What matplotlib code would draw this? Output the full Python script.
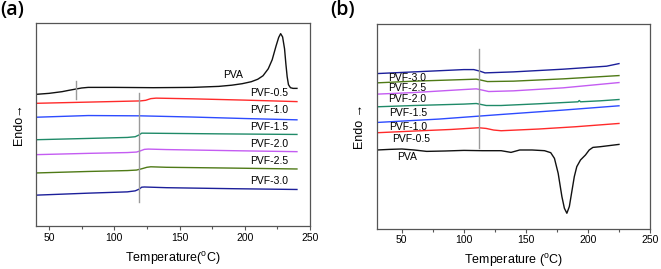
import matplotlib
matplotlib.use("Agg")
import matplotlib.pyplot as plt
from matplotlib.ticker import MultipleLocator

plt.rcParams['font.family'] = ['Liberation Sans', 'DejaVu Sans']

# ---- panel (a): heating curves, arbitrary offset heights ----
a_pva_T = [40, 50, 60, 65, 70, 75, 80, 100, 130, 160, 180, 190, 198, 205, 210, 214,
           218, 221, 224, 226, 227.5, 229, 230.5, 231.5, 232.5, 233.5, 235, 237, 240]
a_pva_h = [132.3, 133.3, 135, 136.3, 137.5, 138.7, 139.3, 139.3, 139, 139.3, 140.3, 141.5,
           143, 145, 147.5, 151, 158, 167, 181, 189.5, 193.3, 190, 178, 163, 150, 142,
           139, 138.3, 138.3]
a_05_T = [40, 80, 120, 124, 128, 132, 160, 200, 240]
a_05_h = [123.3, 124.5, 125.7, 126.3, 128, 128.5, 127.8, 126.5, 125]
a_10_T = [40, 80, 120, 160, 200, 240]
a_10_h = [109.3, 111, 110.7, 109.5, 108, 106.7]
a_15_T = [40, 80, 110, 116, 119, 121, 130, 180, 240]
a_15_h = [86.7, 88, 89, 89.7, 91.5, 93.3, 93.2, 92.6, 92]
a_20_T = [40, 80, 110, 117, 120, 123, 126, 140, 190, 240]
a_20_h = [71.7, 73, 73.8, 74.3, 75.5, 77, 77.3, 76.8, 75.7, 74.7]
a_25_T = [40, 80, 110, 117, 121, 125, 128, 140, 190, 240]
a_25_h = [53.3, 54.8, 55.7, 56.2, 57.5, 59, 59.5, 59, 58.2, 57.3]
a_30_T = [40, 80, 110, 116, 119, 121, 123, 140, 190, 240]
a_30_h = [31, 33, 34.3, 35.3, 37, 39, 39.2, 38.5, 37.5, 36.7]

# ---- panel (b): cooling curves ----
b_pva_T = [30, 40, 50, 60, 70, 85, 100, 115, 130, 138, 145, 155, 165, 170, 173, 176, 179,
           181, 183, 185, 187, 189, 191, 194, 198, 201, 204, 210, 225]
b_pva_h = [78.7, 79.3, 79.7, 78.7, 77.3, 77.7, 78.3, 78, 78, 76.3, 78.7, 78.7, 78, 76, 70.3,
           55.3, 32, 20.3, 15.3, 22, 37, 52, 62, 68.7, 73.7, 78.7, 81.3, 82, 84.3]
b_05_T = [30, 60, 90, 112, 118, 124, 130, 160, 190, 225]
b_05_h = [96, 97.7, 99.3, 101, 100.3, 98.7, 98, 99.7, 102, 105.3]
b_10_T = [30, 80, 130, 180, 225]
b_10_h = [106.3, 109.7, 114.3, 118.7, 123]
b_15_T = [30, 60, 100, 110, 114, 118, 130, 160, 192, 193, 194, 210, 225]
b_15_h = [122, 123.3, 124.7, 125.3, 124.3, 123.3, 123.3, 125, 127, 128.3, 127, 128, 129.3]
b_20_T = [30, 60, 100, 110, 115, 120, 140, 180, 225]
b_20_h = [134.7, 136.3, 139.3, 140, 138.7, 137.3, 138, 141, 146.3]
b_25_T = [30, 60, 100, 110, 114, 119, 140, 180, 225]
b_25_h = [146, 147.7, 149.3, 149.7, 148.7, 147.3, 147.7, 150, 153.3]
b_30_T = [30, 60, 100, 108, 113, 117, 140, 180, 215, 225]
b_30_h = [155.3, 157, 159.3, 159.3, 157.7, 156, 157, 159.7, 162.7, 165.3]

names = ["PVA", "PVF-0.5", "PVF-1.0", "PVF-1.5", "PVF-2.0", "PVF-2.5", "PVF-3.0"]
colors = ["#111111", "#ff2a2a", "#2d4bff", "#1f8a68", "#c45cf2", "#4f7a16", "#1c1f9a"]

# label anchors
a_lab_T = [191, 219, 219, 219, 219, 219, 219]
a_lab_h = [151.7, 134, 116.7, 99, 82.7, 65, 45]
b_lab_T = [46, 42, 40, 40, 39, 39, 39]
b_lab_h = [72, 89.3, 101.3, 116, 130, 141.3, 151.3]

fig = plt.figure(figsize=(6.61, 2.69), dpi=100)
axa = fig.add_axes([36/661, 1-226/269, 274/661, 203/269])
axb = fig.add_axes([377/661, 1-228.5/269, 273/661, 204.5/269])

a_curves = [(a_pva_T, a_pva_h), (a_05_T, a_05_h), (a_10_T, a_10_h), (a_15_T, a_15_h),
            (a_20_T, a_20_h), (a_25_T, a_25_h), (a_30_T, a_30_h)]
b_curves = [(b_pva_T, b_pva_h), (b_05_T, b_05_h), (b_10_T, b_10_h), (b_15_T, b_15_h),
            (b_20_T, b_20_h), (b_25_T, b_25_h), (b_30_T, b_30_h)]

for (T, h), c in zip(a_curves, colors):
    axa.plot(T, h, color=c, lw=1.0)
for n, x, y in zip(names, a_lab_T, a_lab_h):
    axa.text(x, y, n, fontsize=7.5, ha="center", va="center")
axa.plot([71, 71], [127.3, 145.7], color="#9a9a9a", lw=1)
axa.plot([119.3, 119.3], [24, 133.3], color="#9a9a9a", lw=1)
axa.set_xlim(40, 250)
axa.set_ylim(0, 204)
axa.set_xlabel("Temperature($^{\\mathregular{o}}$C)", fontsize=9, labelpad=5)
axa.set_ylabel("Endo\u2192", fontsize=9, labelpad=8)

for (T, h), c in zip(b_curves, colors):
    axb.plot(T, h, color=c, lw=1.0)
for n, x, y in zip(names, b_lab_T, b_lab_h):
    axb.text(x, y, n, fontsize=7.5, ha="left", va="center")
axb.plot([112, 112], [81, 180.3], color="#9a9a9a", lw=1)
axb.set_xlim(30, 250)
axb.set_ylim(0, 205)
axb.set_xlabel("Temperature ($^{\\mathregular{o}}$C)", fontsize=9, labelpad=5)
axb.set_ylabel("Endo \u2192", fontsize=9, labelpad=8)

for ax in (axa, axb):
    ax.set_yticks([])
    ax.xaxis.set_major_locator(MultipleLocator(50))
    ax.xaxis.set_minor_locator(MultipleLocator(25))
    ax.tick_params(axis="x", which="major", length=3, width=0.8, labelsize=7.5,
                   color="#555555", pad=2)
    ax.tick_params(axis="x", which="minor", length=1.8, width=0.8, color="#555555")
    for s in ax.spines.values():
        s.set_color("#555555")
        s.set_linewidth(0.9)

fig.text(0.0, 1.0, "(a)", fontsize=14, family="Open Sans", weight="semibold",
         va="top", ha="left")
fig.text(0.500, 1.0, "(b)", fontsize=14, family="Open Sans", weight="semibold",
         va="top", ha="left")

fig.savefig("out.png", dpi=100)
